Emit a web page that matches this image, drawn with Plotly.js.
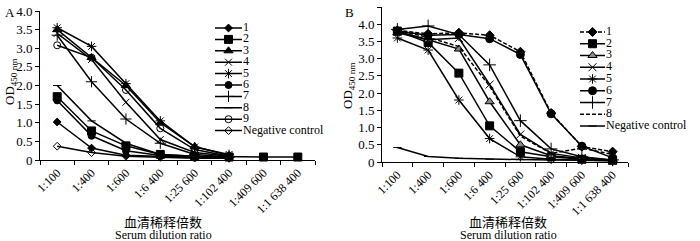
<!DOCTYPE html>
<html>
<head>
<meta charset="utf-8">
<script src="https://cdn.plot.ly/plotly-3.0.1.min.js"></script>
<style>
html,body{margin:0;padding:0;background:#fff;}
#chart{width:700px;height:241px;}
</style>
</head>
<body>
<div id="chart"></div>
<script>
// ---------- data ----------
const categories = ['1:100','1:400','1:600','1:6 400','1:25 600','1:102 400','1:409 600','1:1 638 400'];

// Panel A
const namesA = ['1','2','3','4','5','6','7','8','9','Negative control'];
const a1  = [1.02, 0.32, 0.13, 0.10, 0.07, 0.06, null, null];
const a2  = [1.70, 0.78, 0.38, 0.15, 0.10, 0.08, 0.08, 0.08];
const a3  = [3.50, 2.75, 2.00, 1.00, 0.36, 0.12, null, null];
const a4  = [3.40, 2.70, 1.55, 0.55, 0.20, 0.10, null, null];
const a5  = [3.55, 3.05, 2.05, 1.05, 0.35, 0.15, null, null];
const a6  = [1.60, 0.65, 0.25, 0.12, 0.08, 0.06, null, null];
const a7  = [3.35, 2.10, 1.10, 0.45, 0.15, 0.08, null, null];
const a8  = [2.00, 1.05, 0.45, 0.15, 0.10, 0.07, null, null];
const a9  = [3.08, 2.75, 1.88, 0.85, 0.28, 0.10, null, null];
const aNeg= [0.37, 0.20, 0.10, 0.07, 0.05, 0.05, null, null];
const seriesA = [a1,a2,a3,a4,a5,a6,a7,a8,a9,aNeg];

// Panel B
const namesB = ['1','2','3','4','5','6','7','8','Negative control'];
const b1  = [3.82, 3.72, 3.75, 3.68, 3.20, 1.42, 0.45, 0.30];
const b2  = [3.80, 3.47, 2.58, 1.05, 0.30, 0.15, 0.08, 0.05];
const b3  = [3.75, 3.55, 3.28, 1.75, 0.50, 0.18, 0.10, 0.05];
const b4  = [3.80, 3.55, 3.60, 2.25, 0.80, 0.25, 0.12, 0.05];
const b5  = [3.60, 3.25, 1.80, 0.68, 0.15, 0.08, 0.05, 0.03];
const b6  = [3.80, 3.68, 3.70, 3.58, 3.12, 1.40, 0.46, 0.12];
const b7  = [3.85, 3.95, 3.70, 2.82, 1.20, 0.38, 0.15, 0.06];
const b8  = [3.82, 3.62, 3.35, 2.20, 0.75, 0.25, 0.40, 0.22];
const bNeg= [0.42, 0.16, 0.11, 0.08, 0.07, 0.06, 0.06, 0.05];
const seriesB = [b1,b2,b3,b4,b5,b6,b7,b8,bNeg];

const yTickValsA = [0,0.5,1,1.5,2,2.5,3,3.5,4];
const yTickTextA = ['0','0.5','1.0','1.5','2.0','2.5','3.0','3.5','4.0'];
const yTickValsB = [0,0.5,1,1.5,2,2.5,3,3.5,4,4.5];
const yTickTextB = ['0','0.5','1.0','1.5','2.0','2.5','3.0','3.5','4.0','4.5'];

// ---------- styles ----------
const W = 700, H = 241;
const FONT = 'Liberation Serif, Times New Roman, serif';
const CJK = 'Liberation Serif, Noto Sans CJK SC, serif';
const K = '#000';

const styleA = [
  {symbol:'diamond', size:6, dash:'solid'},
  {symbol:'square', size:8, dash:'solid'},
  {symbol:'triangle-up', size:8, dash:'solid'},
  {symbol:'x-thin-open', size:7, dash:'solid'},
  {symbol:'asterisk-open', size:8, dash:'solid'},
  {symbol:'circle', size:7, dash:'solid'},
  {symbol:'cross-thin-open', size:8, dash:'solid'},
  {symbol:'line-ew-open', size:6, dash:'solid'},
  {symbol:'circle-open', size:7, dash:'solid'},
  {symbol:'diamond-open', size:6, dash:'solid'}
];
const styleB = [
  {symbol:'diamond', size:7, dash:'4px,2px'},
  {symbol:'square', size:8, dash:'solid'},
  {symbol:'triangle-up', size:8, dash:'solid', fill:'#888'},
  {symbol:'x-thin-open', size:8, dash:'solid'},
  {symbol:'asterisk-open', size:8, dash:'solid'},
  {symbol:'circle', size:8, dash:'solid'},
  {symbol:'cross-thin-open', size:9, dash:'solid'},
  {symbol:'none', size:0, dash:'4px,2px'},
  {symbol:'line-ew-open', size:6, dash:'solid'}
];

function mk(st){
  return {symbol: st.symbol === 'none' ? 'circle' : st.symbol,
          size: st.symbol === 'none' ? 0 : st.size,
          color: st.fill || K,
          line:{color:K, width:1}};
}

const traces = [];
function addSeries(series, styles, xa, ya){
  series.forEach((vals, i) => {
    const st = styles[i];
    traces.push({
      type:'scatter', x:categories, y:vals, xaxis:xa, yaxis:ya,
      mode: st.symbol === 'none' ? 'lines' : 'lines+markers',
      line:{color:K, width:1.5, dash:st.dash},
      marker: mk(st), showlegend:false, hoverinfo:'skip', cliponaxis:false
    });
  });
}
addSeries(seriesA, styleA, 'x', 'y');
addSeries(seriesB, styleB, 'x2', 'y2');

// custom compact legends drawn on hidden axes
function addLegend(names, styles, xa, ya, lineLen){
  names.forEach((nm, i) => {
    const st = styles[i];
    traces.push({type:'scatter', x:[0,lineLen], y:[i,i], xaxis:xa, yaxis:ya, mode:'lines',
      line:{color:K, width:1.5, dash:st.dash}, showlegend:false, hoverinfo:'skip', cliponaxis:false});
    if(st.symbol !== 'none'){
      traces.push({type:'scatter', x:[lineLen/2], y:[i], xaxis:xa, yaxis:ya, mode:'markers',
        marker: mk(st), showlegend:false, hoverinfo:'skip', cliponaxis:false});
    }
    traces.push({type:'scatter', x:[lineLen+1], y:[i], xaxis:xa, yaxis:ya, mode:'text',
      text:[nm], textposition:'middle right', textfont:{family:FONT, size:12, color:K},
      showlegend:false, hoverinfo:'skip', cliponaxis:false});
  });
}
addLegend(namesA, styleA, 'x3', 'y3', 27);
addLegend(namesB, styleB, 'x4', 'y4', 25);

// ---------- layout ----------
const px = v => v / W;
const py = v => 1 - v / H;

const xCommon = {type:'category', range:[-0.5,7.5], showgrid:false, zeroline:false,
  showline:true, linecolor:K, linewidth:1, ticks:'outside', ticklen:4, tickcolor:K,
  tickson:'boundaries', tickangle:-45, tickfont:{family:FONT, size:12, color:K}, fixedrange:true};
const yCommon = {showgrid:false, zeroline:false, showline:true, linecolor:K, linewidth:1,
  ticks:'outside', ticklen:4, tickcolor:K, tickfont:{family:FONT, size:13, color:K}, fixedrange:true};
const hidden = {visible:false, showgrid:false, zeroline:false, fixedrange:true};

const layout = {
  width:W, height:H, margin:{l:0,r:0,t:0,b:0},
  paper_bgcolor:'#fff', plot_bgcolor:'rgba(0,0,0,0)', showlegend:false,
  font:{family:FONT, color:K},
  xaxis: Object.assign({}, xCommon, {domain:[px(40), px(315)], anchor:'y'}),
  yaxis: Object.assign({}, yCommon, {domain:[py(160), py(11)], range:[0,4], anchor:'x',
          tickmode:'array', tickvals:yTickValsA, ticktext:yTickTextA}),
  xaxis2: Object.assign({}, xCommon, {domain:[px(382), px(628)], anchor:'y2'}),
  yaxis2: Object.assign({}, yCommon, {domain:[py(162), py(7)], range:[0,4.5], anchor:'x2',
          tickmode:'array', tickvals:yTickValsB, ticktext:yTickTextB}),
  xaxis3: Object.assign({}, hidden, {domain:[px(215), px(345)], range:[0,130], anchor:'y3'}),
  yaxis3: Object.assign({}, hidden, {domain:[py(136.3), py(22.3)], range:[9.5,-0.5], anchor:'x3'}),
  xaxis4: Object.assign({}, hidden, {domain:[px(580), px(700)], range:[0,120], anchor:'y4'}),
  yaxis4: Object.assign({}, hidden, {domain:[py(131.9), py(26.1)], range:[8.5,-0.5], anchor:'x4'}),
  annotations: [
    {text:'A', x:px(3), y:py(12), xref:'paper', yref:'paper', xanchor:'left', yanchor:'middle',
     showarrow:false, font:{family:FONT, size:13, color:K}},
    {text:'B', x:px(343), y:py(12), xref:'paper', yref:'paper', xanchor:'left', yanchor:'middle',
     showarrow:false, font:{family:FONT, size:13, color:K}},
    {text:'OD<sub>450 nm</sub>', x:px(10), y:py(82), xref:'paper', yref:'paper', textangle:-90,
     xanchor:'center', yanchor:'middle', showarrow:false, font:{family:FONT, size:13, color:K}},
    {text:'OD<sub>450 nm</sub>', x:px(348), y:py(86), xref:'paper', yref:'paper', textangle:-90,
     xanchor:'center', yanchor:'middle', showarrow:false, font:{family:FONT, size:13, color:K}},
    {text:'血清稀释倍数', x:px(163), y:py(222), xref:'paper', yref:'paper', xanchor:'center',
     yanchor:'middle', showarrow:false, font:{family:CJK, size:13, color:K}},
    {text:'Serum dilution ratio', x:px(163), y:py(235), xref:'paper', yref:'paper', xanchor:'center',
     yanchor:'middle', showarrow:false, font:{family:FONT, size:12, color:K}},
    {text:'血清稀释倍数', x:px(508), y:py(222), xref:'paper', yref:'paper', xanchor:'center',
     yanchor:'middle', showarrow:false, font:{family:CJK, size:13, color:K}},
    {text:'Serum dilution ratio', x:px(508), y:py(235), xref:'paper', yref:'paper', xanchor:'center',
     yanchor:'middle', showarrow:false, font:{family:FONT, size:12, color:K}}
  ]
};

Plotly.newPlot('chart', traces, layout, {staticPlot:true, displayModeBar:false});
</script>
</body>
</html>
